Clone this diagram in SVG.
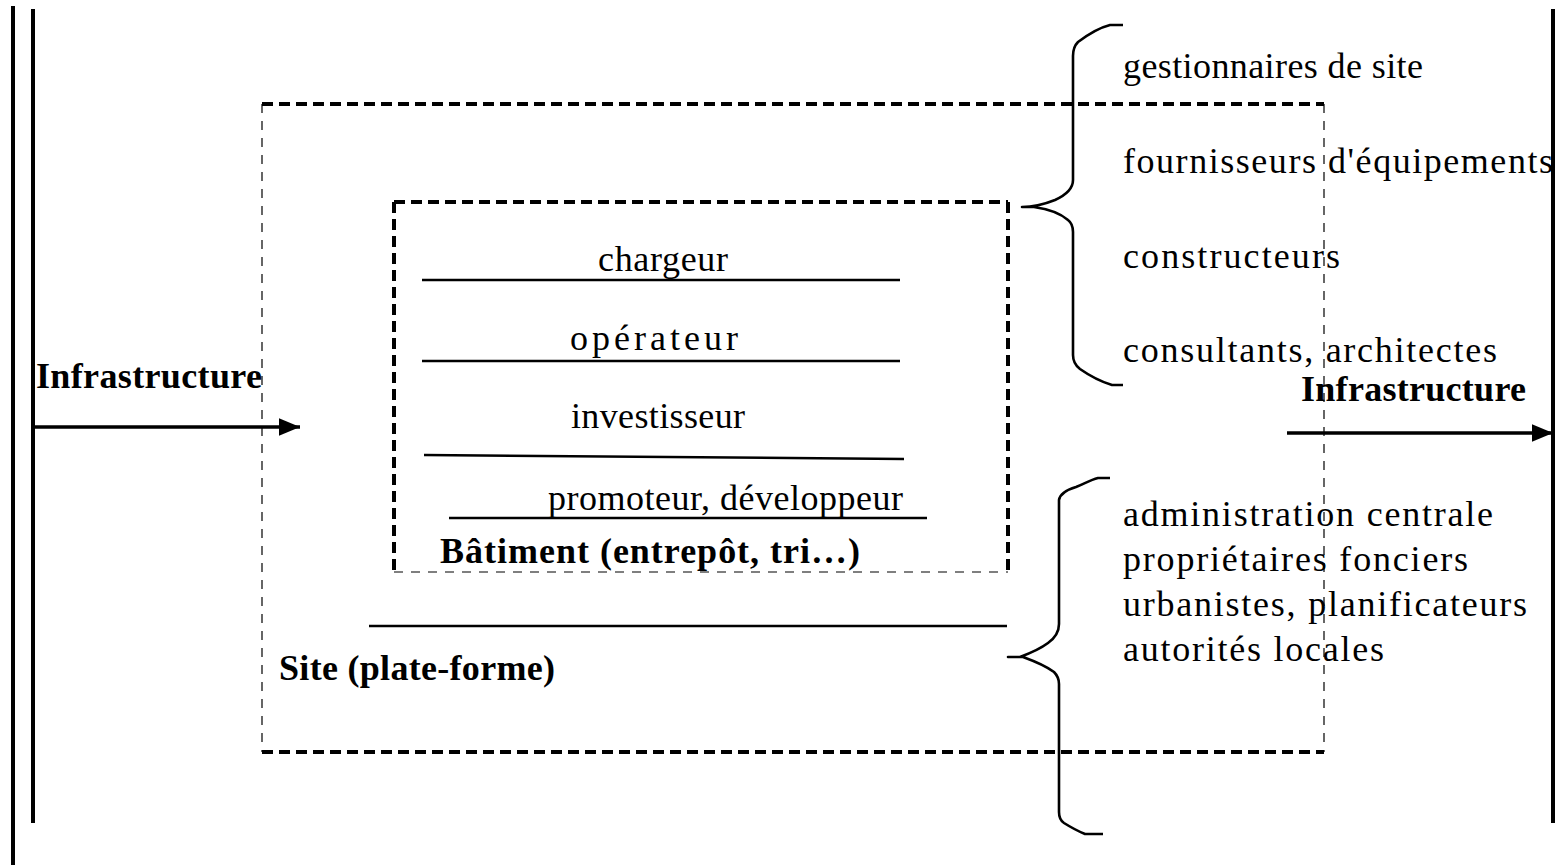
<svg xmlns="http://www.w3.org/2000/svg" width="1565" height="865" viewBox="0 0 1565 865">
<style>
.bg{fill:#fff}
.v{stroke:#000;stroke-width:4;fill:none}
.dt{stroke:#000;stroke-width:4;stroke-dasharray:11 6;fill:none}
.dn{stroke:#000;stroke-width:1.2;stroke-dasharray:9 8;fill:none}
.ln{stroke:#000;stroke-width:2.5;fill:none}
.br{stroke:#000;stroke-width:2.6;fill:none;stroke-linejoin:round}
.t{font-family:"Liberation Serif","Times New Roman",serif;font-size:36px;fill:#000}
.b{font-family:"Liberation Serif","Times New Roman",serif;font-size:36px;font-weight:bold;fill:#000}
</style>
<defs>
<marker id="ah" markerWidth="6" markerHeight="5" refX="6" refY="2.5" orient="auto" markerUnits="strokeWidth">
<path d="M0,0 L6,2.5 L0,5 Z" fill="#000"/>
</marker>
</defs>
<rect class="bg" x="0" y="0" width="1565" height="865"/>
<g id="frame">
<line class="v" x1="13" y1="6" x2="13" y2="865"/>
<line class="v" x1="33" y1="9" x2="33" y2="823"/>
<line class="v" x1="1553" y1="9" x2="1553" y2="823"/>
</g>
<g id="site">
<line class="dt" x1="262" y1="104" x2="1324" y2="104"/>
<line class="dt" x1="262" y1="752" x2="1324" y2="752"/>
<line class="dn" x1="262" y1="104" x2="262" y2="752"/>
<line class="dn" x1="1324" y1="104" x2="1324" y2="752"/>
<line class="ln" x1="369" y1="626" x2="1007" y2="626"/>
<text class="b" x="279" y="680" textLength="276" lengthAdjust="spacing">Site (plate-forme)</text>
</g>
<g id="batiment">
<line class="dt" x1="394" y1="202" x2="1008" y2="202"/>
<line class="dt" x1="394" y1="202" x2="394" y2="572"/>
<line class="dt" x1="1008" y1="202" x2="1008" y2="572"/>
<line class="dn" x1="394" y1="572" x2="1008" y2="572"/>
<text class="b" x="440" y="563" textLength="420" lengthAdjust="spacing">Bâtiment (entrepôt, tri…)</text>
</g>
<g id="chargeur">
<text class="t" x="598" y="271" textLength="130" lengthAdjust="spacing">chargeur</text>
<line class="ln" x1="422" y1="280" x2="900" y2="280"/>
</g>
<g id="operateur">
<text class="t" x="570" y="350" textLength="168" lengthAdjust="spacing">opérateur</text>
<line class="ln" x1="422" y1="361" x2="900" y2="361"/>
</g>
<g id="investisseur">
<text class="t" x="571" y="428" textLength="174" lengthAdjust="spacing">investisseur</text>
<line class="ln" x1="424" y1="455" x2="904" y2="459"/>
</g>
<g id="promoteur">
<text class="t" x="548" y="510" textLength="355" lengthAdjust="spacing">promoteur, développeur</text>
<line class="ln" x1="449" y1="518" x2="927" y2="518"/>
</g>
<g id="infra-left">
<text class="b" x="36" y="388" textLength="226" lengthAdjust="spacing">Infrastructure</text>
</g>
<g id="infra-right">
<text class="b" x="1301" y="401" textLength="225" lengthAdjust="spacing">Infrastructure</text>
</g>
<g id="acteurs-haut">
<text class="t" x="1123" y="78" textLength="300" lengthAdjust="spacing">gestionnaires de site</text>
<text class="t" x="1123" y="173" textLength="430" lengthAdjust="spacing">fournisseurs d'équipements</text>
<text class="t" x="1123" y="268" textLength="217" lengthAdjust="spacing">constructeurs</text>
<text class="t" x="1123" y="362" textLength="374" lengthAdjust="spacing">consultants, architectes</text>
</g>
<g id="acteurs-bas">
<text class="t" x="1123" y="526" textLength="370" lengthAdjust="spacing">administration centrale</text>
<text class="t" x="1123" y="571" textLength="345" lengthAdjust="spacing">propriétaires fonciers</text>
<text class="t" x="1123" y="616" textLength="404" lengthAdjust="spacing">urbanistes, planificateurs</text>
<text class="t" x="1123" y="661" textLength="261" lengthAdjust="spacing">autorités locales</text>
</g>
<g id="connectors">
<line class="v" x1="33" y1="427" x2="300" y2="427" marker-end="url(#ah)" style="stroke-width:3.5"/>
<line class="v" x1="1287" y1="433" x2="1553" y2="433" marker-end="url(#ah)" style="stroke-width:3.5"/>
<path class="br" d="M1123,25 L1110,25 C1098,28 1086,36 1078,42 C1074,46 1073,50 1073,56 L1073,180 C1073,188 1066,195 1055,200 C1045,204 1035,207 1022,207 L1034,207 C1048,209 1060,213 1068,220 C1072,223 1073,227 1073,232 L1073,355 C1073,362 1076,366 1080,369 C1090,376 1102,382 1112,385 L1123,385"/>
<path class="br" d="M1110,478 L1098,478 C1090,480 1084,484 1076,487 C1066,490 1060,494 1059,500 L1059,624 C1059,632 1055,638 1048,643 C1040,649 1028,654 1020,657 L1008,657 L1023,657 C1034,661 1046,666 1054,672 C1058,676 1059,680 1059,684 L1059,812 C1059,818 1061,821 1064,823 C1072,828 1080,832 1085,834 L1103,834"/>
</g>
</svg>
